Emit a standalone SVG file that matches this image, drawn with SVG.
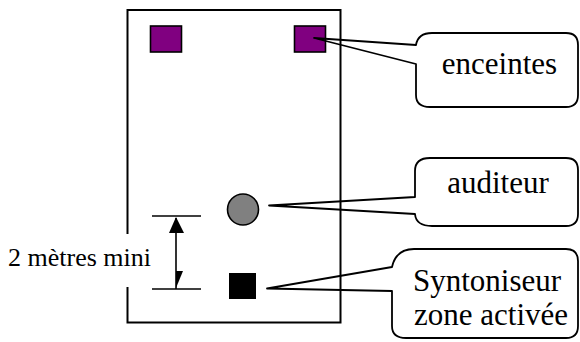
<svg xmlns="http://www.w3.org/2000/svg" width="580" height="342" viewBox="0 0 580 342">
<style>
.callout{fill:none;stroke:#000;stroke-width:1.8;stroke-linejoin:round}
.lbl{font-size:31px;fill:#000;text-anchor:middle}
.dim{stroke:#000;stroke-width:1.6;fill:none}
.spk{fill:#800080;stroke:#000;stroke-width:1.6}
</style>
<rect width="580" height="342" fill="#fff"/>
<g id="room">
<rect x="127.5" y="10" width="213" height="312.5" fill="none" stroke="#000" stroke-width="2"/>
</g>
<g id="speaker-left"><rect class="spk" x="150.5" y="26" width="31" height="26"/></g>
<g id="speaker-right"><rect class="spk" x="294.5" y="26" width="31" height="26"/></g>
<g id="listener"><circle cx="243" cy="209.5" r="15.5" fill="#808080" stroke="#000" stroke-width="1.6"/></g>
<g id="tuner"><rect x="229" y="273" width="27" height="26" fill="#000"/></g>
<g id="connectors">
<line class="dim" x1="152" y1="216" x2="201" y2="216"/>
<line class="dim" x1="152" y1="289" x2="201" y2="289"/>
<line class="dim" x1="176" y1="218" x2="176" y2="289"/>
<polygon points="176,217 169,233 184,233" fill="#000"/>
<polygon points="176,271 183,271 176,288" fill="#000"/>
</g>
<g id="label-distance">
<rect x="4" y="234" width="148" height="53" fill="#fff"/>
<text x="8" y="266" font-family="Liberation Serif, DejaVu Serif, serif" font-size="26" fill="#000">2 mètres mini</text>
</g>
<g id="callout-enceintes" font-family="Liberation Serif, DejaVu Serif, serif">
<path class="callout" d="M314,38 L416,45 Q418,33 432,33 L566,33 Q578,33 578,45 L578,95 Q578,107 566,107 L430,107 Q416,107 416,95 L416,64 Z"/>
<text class="lbl" x="499.5" y="74">enceintes</text>
</g>
<g id="callout-auditeur" font-family="Liberation Serif, DejaVu Serif, serif">
<path class="callout" d="M269,205.5 L415,197 L415,171 Q415,158 430,158 L566,158 Q578,158 578,170 L578,214 Q578,226 566,226 L432,226 Q416,226 415,214 Z"/>
<text class="lbl" x="498" y="193">auditeur</text>
</g>
<g id="callout-syntoniseur" font-family="Liberation Serif, DejaVu Serif, serif">
<path class="callout" d="M267,288.5 L392,267 Q396,249 414,249 L566,249 Q578,249 578,261 L578,326 Q578,338 566,338 L406,338 Q392,338 392,326 L392,291 Z"/>
<text class="lbl" x="487" y="291">Syntoniseur</text>
<text class="lbl" x="491" y="325">zone activée</text>
</g>
</svg>
